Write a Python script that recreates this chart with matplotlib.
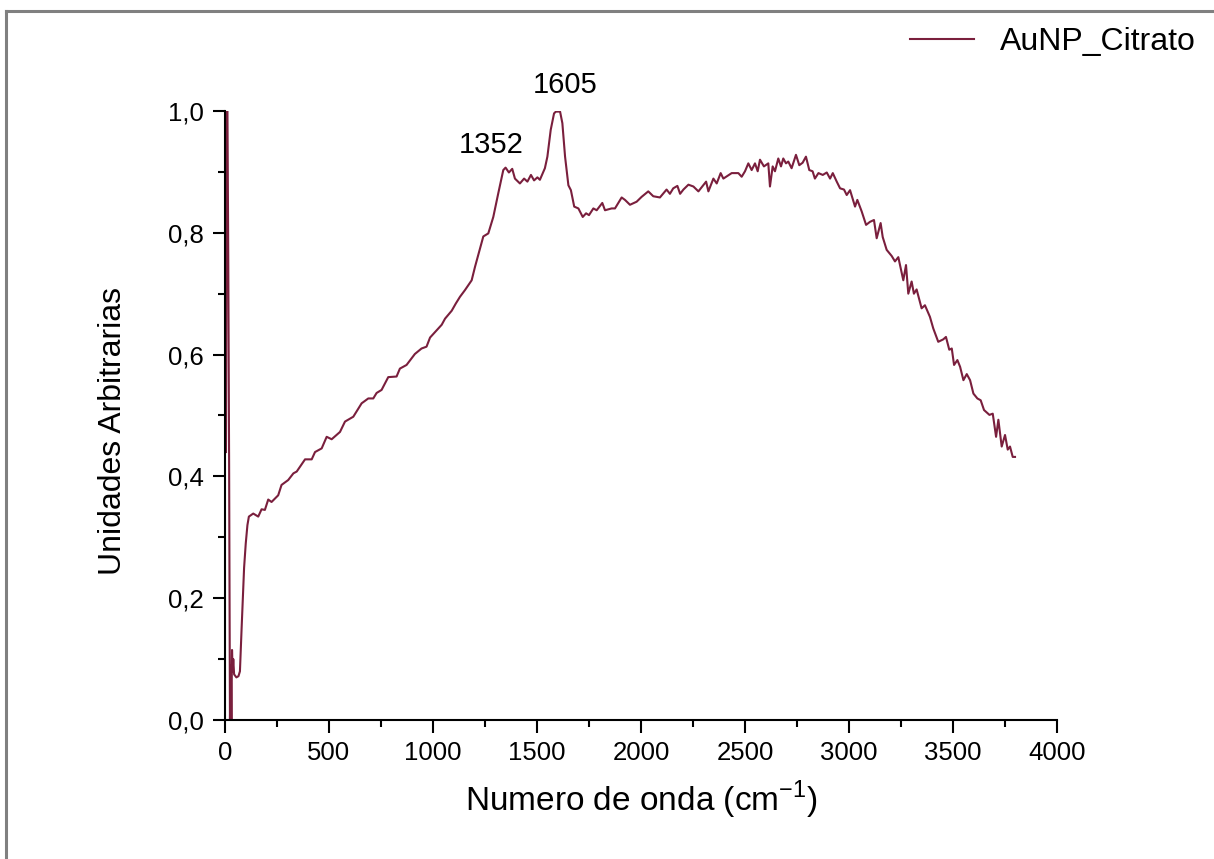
import numpy as np
import matplotlib
matplotlib.use('Agg')
import matplotlib.pyplot as plt
from matplotlib import ticker
from matplotlib.lines import Line2D

plt.rcParams['font.family'] = ['Liberation Sans', 'DejaVu Sans']

# Raman spectrum, AuNP_Citrato
wavenumber = [5, 8, 12, 16, 20, 24, 28, 31, 34, 37, 40, 44, 55, 65, 72, 80, 92, 100, 108,
              115, 136, 160, 176, 192, 208, 224, 256, 272, 304, 329, 345, 385, 417, 433,
              465, 489, 513, 553, 577, 617, 657, 689, 713, 729, 753, 785, 825, 841, 873,
              913, 945, 969, 986, 1018, 1042, 1058, 1090, 1110, 1130, 1154, 1186, 1202,
              1242, 1266, 1290, 1314, 1338, 1349, 1365, 1381, 1394, 1418, 1438, 1454,
              1471, 1486, 1502, 1514, 1538, 1550, 1566, 1582, 1591, 1611, 1622, 1635,
              1651, 1663, 1679, 1699, 1720, 1736, 1750, 1771, 1787, 1814, 1827, 1859,
              1875, 1907, 1923, 1947, 1979, 2003, 2035, 2059, 2091, 2123, 2139, 2155,
              2175, 2188, 2204, 2228, 2252, 2276, 2313, 2324, 2348, 2364, 2383, 2396,
              2436, 2468, 2484, 2500, 2516, 2532, 2548, 2561, 2572, 2591, 2612, 2620,
              2633, 2644, 2660, 2673, 2684, 2697, 2708, 2724, 2745, 2761, 2777, 2793,
              2809, 2825, 2836, 2853, 2874, 2893, 2909, 2922, 2941, 2957, 2976, 2989,
              3005, 3029, 3040, 3061, 3082, 3101, 3120, 3133, 3152, 3162, 3181, 3205,
              3221, 3237, 3261, 3274, 3285, 3301, 3312, 3325, 3349, 3365, 3389, 3405,
              3429, 3453, 3466, 3482, 3494, 3505, 3521, 3534, 3550, 3566, 3582, 3598,
              3617, 3633, 3649, 3675, 3691, 3707, 3718, 3734, 3750, 3763, 3774, 3787,
              3798]
intensity = [0.44, 1.0, 1.0, 0.75, 0.42, 0.0, 0.09, 0.0, 0.115, 0.08, 0.10, 0.075, 0.07,
             0.072, 0.08, 0.15, 0.25, 0.29, 0.32,
             0.334, 0.339, 0.334, 0.346, 0.345, 0.362, 0.358, 0.369, 0.386, 0.394, 0.405,
             0.408, 0.428, 0.428, 0.440, 0.446, 0.465, 0.461, 0.473, 0.490, 0.498, 0.520,
             0.528, 0.528, 0.537, 0.542, 0.563, 0.564, 0.577, 0.583, 0.601, 0.610, 0.613,
             0.628, 0.640, 0.649, 0.659, 0.672, 0.684, 0.695, 0.706, 0.722, 0.744, 0.794,
             0.799, 0.826, 0.865, 0.903, 0.907, 0.899, 0.905, 0.889, 0.881, 0.889, 0.884,
             0.895, 0.886, 0.891, 0.887, 0.906, 0.925, 0.969, 0.996, 0.999, 0.999, 0.980,
             0.925, 0.878, 0.870, 0.843, 0.840, 0.826, 0.832, 0.829, 0.840, 0.837, 0.849,
             0.837, 0.840, 0.840, 0.858, 0.854, 0.846, 0.851, 0.859, 0.868, 0.860, 0.858,
             0.871, 0.864, 0.873, 0.877, 0.864, 0.871, 0.879, 0.876, 0.868, 0.884, 0.868,
             0.889, 0.881, 0.898, 0.889, 0.898, 0.898, 0.892, 0.901, 0.914, 0.903, 0.914,
             0.901, 0.920, 0.909, 0.914, 0.876, 0.909, 0.901, 0.922, 0.909, 0.922, 0.914,
             0.917, 0.906, 0.928, 0.911, 0.915, 0.925, 0.903, 0.901, 0.889, 0.898, 0.895,
             0.899, 0.889, 0.898, 0.884, 0.873, 0.871, 0.862, 0.870, 0.843, 0.854, 0.835,
             0.813, 0.818, 0.821, 0.791, 0.816, 0.793, 0.772, 0.762, 0.753, 0.760, 0.722,
             0.747, 0.700, 0.720, 0.700, 0.707, 0.676, 0.681, 0.662, 0.643, 0.621, 0.625,
             0.629, 0.608, 0.610, 0.583, 0.591, 0.580, 0.558, 0.568, 0.558, 0.536, 0.528,
             0.525, 0.509, 0.501, 0.503, 0.465, 0.493, 0.449, 0.468, 0.444, 0.449, 0.432,
             0.432]

peak_pos = [1279, 1635]
peak_y = [0.944, 1.043]
peak_labels = ['1352', '1605']

fig = plt.figure(figsize=(12.14, 8.59), dpi=100)
ax = fig.add_axes([0.1853, 0.1618, 0.6854, 0.709])

ax.plot(wavenumber, intensity, color='#7a1f3d', linewidth=1.5, label='AuNP_Citrato')

for xp, yp, lab in zip(peak_pos, peak_y, peak_labels):
    ax.text(xp, yp, lab, ha='center', va='center', fontsize=21, clip_on=False)

ax.set_xlim(0, 4000)
ax.set_ylim(0, 1.0)
ax.xaxis.set_major_locator(ticker.MultipleLocator(500))
ax.xaxis.set_minor_locator(ticker.MultipleLocator(250))
ax.yaxis.set_major_locator(ticker.MultipleLocator(0.2))
ax.yaxis.set_minor_locator(ticker.MultipleLocator(0.1))
ax.yaxis.set_major_formatter(ticker.FuncFormatter(lambda v, p: f'{v:.1f}'.replace('.', ',')))

for s in ['top', 'right']:
    ax.spines[s].set_visible(False)
for s in ['left', 'bottom']:
    ax.spines[s].set_linewidth(1.5)
ax.tick_params(which='major', direction='out', length=9, width=1.5, labelsize=18.5, pad=6)
ax.tick_params(which='minor', direction='out', length=5, width=1.5)

ax.set_xlabel(r'Numero de onda (cm$^{\mathregular{-1}}$)', fontsize=24, labelpad=10)
ax.set_ylabel('Unidades Arbitrarias', fontsize=23)
ax.yaxis.set_label_coords(-0.117, 0.475)

fig.legend(loc='upper right', bbox_to_anchor=(0.985, 0.968), frameon=False,
           fontsize=23, handlelength=2.0, handletextpad=0.8, borderpad=0, borderaxespad=0)

# grey frame along top and left edges
fig.add_artist(Line2D([0.005, 1.0], [0.987, 0.987], color='#808080', linewidth=2.2,
                      transform=fig.transFigure))
fig.add_artist(Line2D([0.005, 0.005], [0.0, 0.987], color='#808080', linewidth=2.2,
                      transform=fig.transFigure))

plt.savefig('out.png', dpi=100)
